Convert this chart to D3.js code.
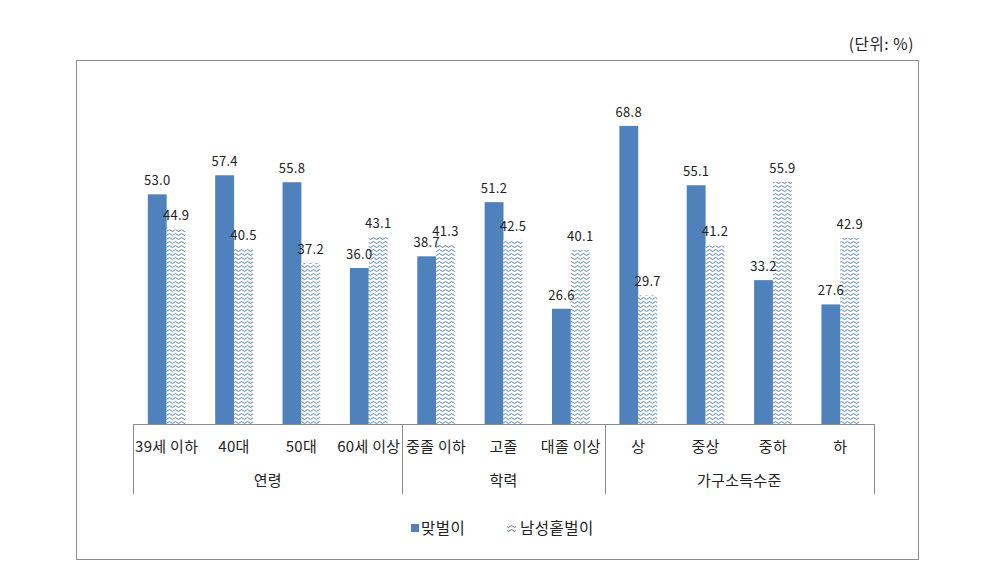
<!DOCTYPE html>
<html>
<head>
<meta charset="utf-8">
<script src="https://cdn.jsdelivr.net/npm/d3@7"></script>
<style>
  body { margin: 0; background: #fff; }
  text { font-family: "Noto Sans CJK KR", "Noto Sans", sans-serif; fill: #222; }
</style>
</head>
<body>
<div id="chart"></div>
<script>
const categories = ["39세 이하", "40대", "50대", "60세 이상", "중졸 이하", "고졸", "대졸 이상", "상", "중상", "중하", "하"];
const groups = [
  { name: "연령", from: 0, to: 4 },
  { name: "학력", from: 4, to: 7 },
  { name: "가구소득수준", from: 7, to: 11 }
];
const dualIncome = [53.0, 57.4, 55.8, 36.0, 38.7, 51.2, 26.6, 68.8, 55.1, 33.2, 27.6];
const maleSingle = [44.9, 40.5, 37.2, 43.1, 41.3, 42.5, 40.1, 29.7, 41.2, 55.9, 42.9];
const seriesNames = ["맞벌이", "남성홑벌이"];

const blue = "#4f81bd";
const width = 994, height = 571;
const left = 133, right = 874, bottomY = 424;

const svg = d3.select("#chart").append("svg")
  .attr("width", width)
  .attr("height", height);

// wavy pattern for second series
const defs = svg.append("defs");
const pat = defs.append("pattern")
  .attr("id", "wave")
  .attr("patternUnits", "userSpaceOnUse")
  .attr("width", 6)
  .attr("height", 4);
pat.append("rect").attr("width", 6).attr("height", 4).attr("fill", "#fff");
pat.append("path")
  .attr("d", "M0,2.5 Q1.5,0.5 3,2.5 T6,2.5")
  .attr("fill", "none")
  .attr("stroke", blue)
  .attr("stroke-width", 1);

// outer frame
svg.append("rect")
  .attr("x", 76.5).attr("y", 60.5)
  .attr("width", 842).attr("height", 499)
  .attr("fill", "none")
  .attr("stroke", "#8c8c8c");

svg.append("text")
  .attr("x", 914).attr("y", 50)
  .attr("text-anchor", "end")
  .attr("font-size", 15.5)
  .attr("letter-spacing", 0.6)
  .text("(단위: %)");

const x = d3.scaleBand()
  .domain(categories)
  .range([left, right])
  .paddingInner(0.44)
  .paddingOuter(0.22);

const y = d3.scaleLinear().domain([0, 80]).range([bottomY, bottomY - 80 * 4.333]);

const half = x.bandwidth() / 2;

// solid bars
svg.append("g").selectAll("rect")
  .data(dualIncome)
  .join("rect")
  .attr("x", (d, i) => x(categories[i]))
  .attr("y", d => y(d))
  .attr("width", half)
  .attr("height", d => y(0) - y(d))
  .attr("fill", blue);

// patterned bars
svg.append("g").selectAll("rect")
  .data(maleSingle)
  .join("rect")
  .attr("x", (d, i) => x(categories[i]) + half)
  .attr("y", d => y(d))
  .attr("width", half)
  .attr("height", d => y(0) - y(d))
  .attr("fill", "url(#wave)");

// value labels
const labelSize = 13;
const valueLabels = (data, shift) => svg.append("g").selectAll("text")
  .data(data)
  .join("text")
  .attr("x", (d, i) => x(categories[i]) + half * shift)
  .attr("y", d => y(d) - 9)
  .attr("text-anchor", "middle")
  .attr("font-size", labelSize)
  .attr("letter-spacing", 0.3)
  .text(d => d.toFixed(1));
valueLabels(dualIncome, 0.5);
valueLabels(maleSingle, 1.5);

// axis line
const step = x.step();
const axis = svg.append("g").attr("stroke", "#8c8c8c").attr("fill", "none");
axis.append("line")
  .attr("x1", left).attr("x2", right)
  .attr("y1", bottomY + 0.5).attr("y2", bottomY + 0.5);

// group separators
const edges = [0].concat(groups.map(g => g.to));
axis.selectAll(".sep")
  .data(edges)
  .join("line")
  .attr("x1", d => Math.round(left + d * step) + 0.5)
  .attr("x2", d => Math.round(left + d * step) + 0.5)
  .attr("y1", bottomY)
  .attr("y2", 494);

// category labels
svg.append("g").selectAll("text")
  .data(categories)
  .join("text")
  .attr("x", d => x(d) + half)
  .attr("y", 452)
  .attr("text-anchor", "middle")
  .attr("font-size", 15)
  .attr("letter-spacing", 0.3)
  .text(d => d);

// group labels
svg.append("g").selectAll("text")
  .data(groups)
  .join("text")
  .attr("x", g => left + (g.from + g.to) / 2 * step)
  .attr("y", 486)
  .attr("text-anchor", "middle")
  .attr("font-size", 15)
  .attr("letter-spacing", 0.3)
  .text(g => g.name);

// legend
const legend = svg.append("g");
legend.append("rect")
  .attr("x", 411).attr("y", 524)
  .attr("width", 8).attr("height", 8)
  .attr("fill", blue);
legend.append("text")
  .attr("x", 421).attr("y", 534)
  .attr("font-size", 15.5)
  .attr("letter-spacing", 0.5)
  .text(seriesNames[0]);
legend.append("rect")
  .attr("x", 507).attr("y", 524)
  .attr("width", 9).attr("height", 8)
  .attr("fill", "url(#wave)");
legend.append("text")
  .attr("x", 520).attr("y", 534)
  .attr("font-size", 15.5)
  .attr("letter-spacing", 0.5)
  .text(seriesNames[1]);
</script>
</body>
</html>
